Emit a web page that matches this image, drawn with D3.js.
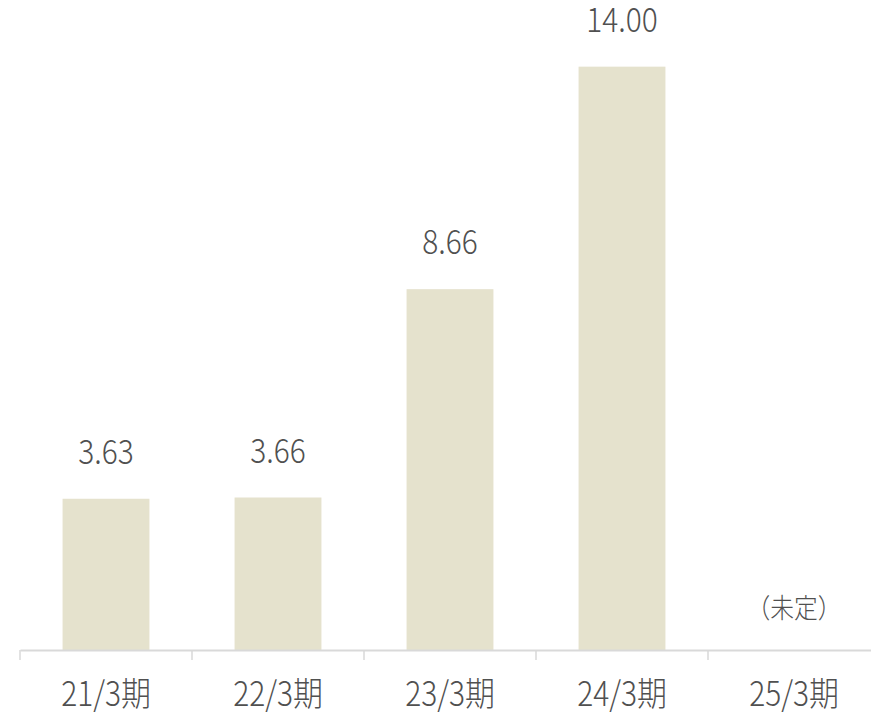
<!DOCTYPE html>
<html>
<head>
<meta charset="utf-8">
<script src="https://cdn.jsdelivr.net/npm/d3@7"></script>
<style>
  html, body { margin: 0; padding: 0; background: #fff; }
  svg { display: block; }
  text { font-family: "Noto Sans CJK JP", "Noto Sans", sans-serif; font-weight: 300; fill: #505050; }
</style>
</head>
<body>
<svg id="chart" width="871" height="712"></svg>
<script>
const categories = ['21/3期', '22/3期', '23/3期', '24/3期', '25/3期'];
const values = [3.63, 3.66, 8.66, 14.00, null];
const pendingLabel = '（未定）';

const baseY = 650;
const squeeze = 0.88;

const svg = d3.select('#chart');

const x = d3.scaleBand()
  .domain(categories)
  .range([20, 880]);

const xBar = d3.scaleBand()
  .domain(categories)
  .range([20, 880])
  .paddingInner(0.495)
  .paddingOuter(0.2475);

const y = d3.scaleLinear()
  .domain([0, 15.6])
  .range([baseY, 0]);

const data = categories.map((c, i) => ({ label: c, value: values[i] }));

// bars
svg.append('g')
  .selectAll('rect')
  .data(data.filter(d => d.value !== null))
  .enter().append('rect')
    .attr('x', d => xBar(d.label))
    .attr('y', d => y(d.value))
    .attr('width', xBar.bandwidth())
    .attr('height', d => baseY - y(d.value))
    .attr('fill', '#e5e2cd');

// axis line + ticks at band edges
const axis = svg.append('g')
  .attr('transform', `translate(0,${baseY})`)
  .call(d3.axisBottom(x).tickSize(0).tickFormat(''));
axis.select('.domain').attr('stroke', '#d9d9d9').attr('stroke-width', 2);

axis.selectAll('.edge')
  .data(categories)
  .enter().append('line')
    .attr('class', 'edge')
    .attr('x1', d => x(d))
    .attr('x2', d => x(d))
    .attr('y1', 0)
    .attr('y2', 10)
    .attr('stroke', '#d9d9d9')
    .attr('stroke-width', 1.5);

// category labels
svg.append('g')
  .selectAll('text')
  .data(categories)
  .enter().append('text')
    .attr('text-anchor', 'middle')
    .attr('font-size', 34)
    .attr('transform', d => `translate(${x(d) + x.bandwidth() / 2},${baseY + 56}) scale(${squeeze},1)`)
    .text(d => d);

// value labels
const fmt = d3.format('.2f');
svg.append('g')
  .selectAll('text')
  .data(data)
  .enter().append('text')
    .attr('text-anchor', 'middle')
    .attr('font-size', d => (d.value === null ? 27 : 34))
    .attr('transform', d => {
      const cx = x(d.label) + x.bandwidth() / 2;
      const ty = d.value === null ? baseY - 32 : y(d.value) - 35;
      return `translate(${cx},${ty}) scale(${squeeze},1)`;
    })
    .text(d => (d.value === null ? pendingLabel : fmt(d.value)));
</script>
</body>
</html>
